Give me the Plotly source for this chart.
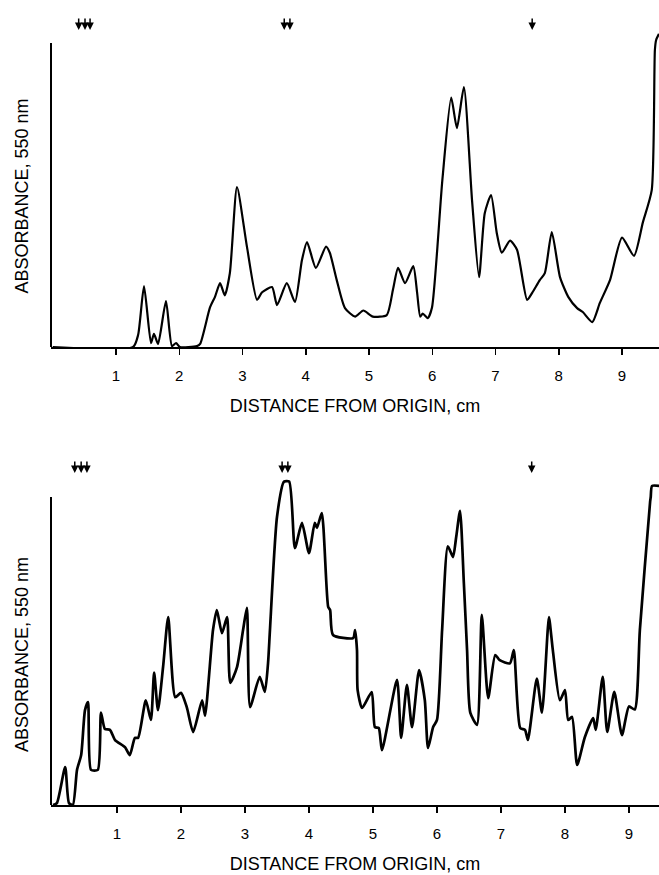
import plotly.graph_objects as go

# ---------------- data (cm, relative absorbance) ----------------
top_cm = [0.00, 1.27, 1.35, 1.443, 1.553, 1.60, 1.665, 1.79, 1.885, 1.95, 2.01, 2.28, 2.33,
          2.486, 2.565, 2.645, 2.72, 2.80, 2.913, 3.07, 3.23, 3.31, 3.467, 3.546, 3.70, 3.83,
          3.94, 4.02, 4.16, 4.32, 4.38, 4.49, 4.62, 4.78, 4.91, 5.06, 5.28, 5.38, 5.46, 5.57,
          5.70, 5.76, 5.81, 5.85, 5.93, 5.996, 6.16, 6.30, 6.39, 6.50, 6.63, 6.74, 6.83, 6.93,
          7.02, 7.10, 7.23, 7.34, 7.50, 7.58, 7.70, 7.78, 7.89, 8.02, 8.15, 8.29, 8.38, 8.53,
          8.65, 8.81, 9.00, 9.19, 9.33, 9.47, 9.52, 9.54, 9.585]
top_abs = [0.0, 0.0, 0.04, 0.20, 0.013, 0.043, 0.01, 0.151, 0.003, 0.013, 0.0, 0.003, 0.01,
           0.13, 0.165, 0.21, 0.17, 0.243, 0.526, 0.33, 0.155, 0.18, 0.197, 0.138, 0.21, 0.148,
           0.286, 0.345, 0.26, 0.33, 0.31, 0.22, 0.128, 0.10, 0.12, 0.10, 0.105, 0.19, 0.26, 0.21,
           0.266, 0.18, 0.10, 0.11, 0.095, 0.13, 0.55, 0.82, 0.72, 0.855, 0.48, 0.23, 0.44, 0.50,
           0.375, 0.31, 0.35, 0.32, 0.155, 0.178, 0.22, 0.243, 0.378, 0.23, 0.165, 0.128, 0.115, 0.082,
           0.145, 0.22, 0.36, 0.30, 0.41, 0.516, 0.977, 1.01, 1.03]

bot_cm = [0.00, 0.06, 0.19, 0.25, 0.31, 0.375, 0.44, 0.50, 0.547, 0.594, 0.70, 0.75, 0.81, 0.89,
          0.97, 1.125, 1.20, 1.28, 1.33, 1.45, 1.53, 1.58, 1.64, 1.72, 1.80, 1.91, 2.00, 2.09,
          2.19, 2.33, 2.375, 2.50, 2.56, 2.64, 2.72, 2.77, 2.875, 2.97, 3.03, 3.08, 3.23, 3.31,
          3.36, 3.39, 3.50, 3.61, 3.69, 3.78, 3.89, 4.00, 4.09, 4.125, 4.20, 4.30, 4.33, 4.375,
          4.69, 4.72, 4.75, 4.76, 4.83, 4.98, 5.03, 5.09, 5.14, 5.375, 5.44, 5.53, 5.61, 5.72,
          5.81, 5.86, 5.94, 6.00, 6.08, 6.17, 6.25, 6.30, 6.36, 6.42, 6.47, 6.52, 6.625, 6.70,
          6.80, 6.91, 6.98, 7.14, 7.20, 7.30, 7.375, 7.42, 7.56, 7.64, 7.73, 7.75, 7.81, 7.92,
          8.00, 8.05, 8.11, 8.19, 8.31, 8.44, 8.48, 8.59, 8.66, 8.77, 8.89, 9.00, 9.09, 9.17,
          9.33, 9.34, 9.36, 9.47]
bot_abs = [0.0, 0.006, 0.123, 0.006, 0.0, 0.114, 0.162, 0.308, 0.334, 0.114, 0.114, 0.30, 0.247,
           0.244, 0.211, 0.188, 0.162, 0.218, 0.218, 0.34, 0.276, 0.43, 0.308, 0.448, 0.61, 0.35,
           0.364, 0.318, 0.237, 0.34, 0.29, 0.568, 0.633, 0.558, 0.61, 0.396, 0.448, 0.568, 0.64,
           0.318, 0.416, 0.367, 0.46, 0.568, 0.935, 1.05, 1.05, 0.834, 0.916, 0.818, 0.916, 0.90,
           0.948, 0.643, 0.633, 0.552, 0.542, 0.568, 0.503, 0.373, 0.315, 0.367, 0.253, 0.25,
           0.178, 0.406, 0.218, 0.39, 0.253, 0.438, 0.34, 0.185, 0.253, 0.276, 0.568, 0.84, 0.805,
           0.87, 0.955, 0.72, 0.503, 0.30, 0.26, 0.617, 0.347, 0.487, 0.47, 0.46, 0.503, 0.25,
           0.244, 0.211, 0.41, 0.30, 0.568, 0.61, 0.503, 0.34, 0.373, 0.276, 0.286, 0.13, 0.22,
           0.282, 0.244, 0.416, 0.237, 0.367, 0.227, 0.32, 0.31, 0.568, 0.984, 1.0, 1.036, 1.036]

top_arrows_cm = [0.41, 0.51, 0.59, 3.66, 3.75, 7.58]
bot_arrows_cm = [0.34, 0.44, 0.53, 3.58, 3.67, 7.48]

tick_vals = [1, 2, 3, 4, 5, 6, 7, 8, 9]
x_title = "DISTANCE FROM ORIGIN, cm"
y_title = "ABSORBANCE, 550 nm"

# ---------------- figure ----------------
FONT = "Liberation Sans, Arial, sans-serif"
fig = go.Figure()
fig.add_trace(go.Scatter(x=top_cm, y=top_abs, mode="lines", xaxis="x", yaxis="y",
                         line=dict(color="black", width=2.2, shape="spline", smoothing=0.6),
                         hoverinfo="skip", showlegend=False))
fig.add_trace(go.Scatter(x=bot_cm, y=bot_abs, mode="lines", xaxis="x2", yaxis="y2",
                         line=dict(color="black", width=2.7, shape="spline", smoothing=0.6),
                         hoverinfo="skip", showlegend=False))

xcommon = dict(showgrid=False, zeroline=False, showline=True, linecolor="black", linewidth=2,
               ticks="outside", ticklen=6, tickwidth=1.5, tickcolor="black", automargin=False,
               tickvals=tick_vals, ticktext=[str(v) for v in tick_vals],
               tickfont=dict(family=FONT, size=15, color="black"), ticklabelstandoff=8,
               title=dict(text=x_title, font=dict(family=FONT, size=18, color="black"), standoff=16),
               domain=[51 / 659, 1.0])
ycommon = dict(showgrid=False, zeroline=False, showline=False, showticklabels=False, ticks="",
               range=[0, 1.1], automargin=False)

fig.update_layout(
    width=659, height=875, margin=dict(l=0, r=0, t=0, b=0),
    paper_bgcolor="white", plot_bgcolor="white",
    xaxis=dict(xcommon, range=[-0.0277, 9.585], anchor="y"),
    yaxis=dict(ycommon, domain=[(875 - 347) / 875, (875 - 12.6) / 875], anchor="x"),
    xaxis2=dict(xcommon, range=[-0.03125, 9.469], anchor="y2"),
    yaxis2=dict(ycommon, domain=[(875 - 805) / 875, (875 - 466.2) / 875], anchor="x2"),
)

# y-axis lines (only up to the top of the absorbance scale)
for yr in ["y", "y2"]:
    xr = "x domain" if yr == "y" else "x2 domain"
    fig.add_shape(type="line", xref=xr, yref=yr, x0=0, x1=0, y0=0, y1=1.0,
                  line=dict(color="black", width=2))

# y titles
for ycen in [(875 - 196.5) / 875, (875 - 655) / 875]:
    fig.add_annotation(text=y_title, xref="paper", yref="paper", x=22 / 659, y=ycen,
                       textangle=-90, showarrow=False, xanchor="center", yanchor="middle",
                       font=dict(family=FONT, size=18, color="black"))

# marker arrows
for xv in top_arrows_cm:
    fig.add_annotation(x=xv, y=1.043, xref="x", yref="y", text="", showarrow=True,
                       ax=0, ay=-13, arrowhead=2, arrowsize=1.0, arrowwidth=1.5, arrowcolor="black")
for xv in bot_arrows_cm:
    fig.add_annotation(x=xv, y=1.078, xref="x2", yref="y2", text="", showarrow=True,
                       ax=0, ay=-13, arrowhead=2, arrowsize=1.0, arrowwidth=1.5, arrowcolor="black")

fig.write_html("out.html", config={"displayModeBar": False, "staticPlot": True},
               post_script="document.body.style.margin='0';document.body.style.overflow='hidden';")
